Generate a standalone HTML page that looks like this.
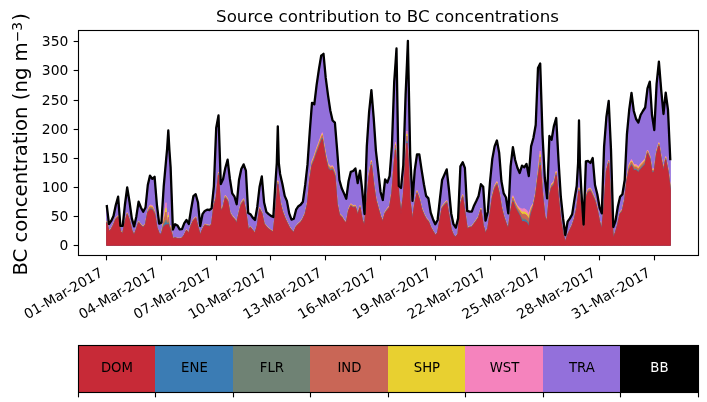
<!DOCTYPE html>
<html lang="en"><head><meta charset="utf-8"><title>Source contribution to BC concentrations</title>
<style>html,body{margin:0;padding:0;background:#fff;overflow:hidden}svg{display:block}</style></head>
<body>
<svg width="707" height="402" viewBox="0 0 707 402" font-family="'DejaVu Sans', 'Liberation Sans', sans-serif" fill="#000">
<rect width="707" height="402" fill="#fff"/>
<polygon fill="#9370db" stroke="#9370db" stroke-width="1" stroke-linejoin="round" points="106.7,205.0 109.0,224.2 111.2,220.9 113.5,215.9 115.8,205.0 118.1,196.7 120.4,225.9 122.7,225.9 124.9,205.0 127.2,187.5 129.5,201.7 131.8,218.4 134.1,226.4 136.3,216.7 138.6,201.7 140.9,207.5 143.2,211.7 145.5,207.5 147.8,185.0 150.0,175.6 152.3,178.9 154.6,176.8 156.9,205.0 159.2,223.7 161.4,222.6 163.7,186.7 166.0,161.0 167.1,149.0 168.3,130.5 169.4,150.0 170.6,167.0 172.9,229.5 175.1,224.2 177.4,225.4 179.7,229.4 182.0,229.1 184.3,223.1 186.5,220.0 188.8,224.0 191.1,209.2 193.4,196.2 195.7,194.2 198.0,202.5 200.2,226.0 202.5,214.2 204.8,210.9 207.1,209.7 209.4,210.0 211.6,208.4 213.9,186.0 216.2,128.0 218.5,115.5 220.8,184.0 223.1,179.0 225.3,168.0 227.6,159.7 229.9,179.0 232.2,193.4 234.5,196.7 236.7,204.2 239.0,180.0 241.3,169.0 243.6,164.4 245.9,170.6 248.2,213.0 250.4,214.2 252.7,217.6 255.0,220.0 257.3,206.7 259.6,186.7 261.8,176.4 264.1,202.5 266.4,212.0 268.7,214.2 271.0,215.9 273.3,217.0 275.5,182.0 276.8,163.0 277.8,126.4 278.8,163.0 280.1,174.0 282.4,184.0 284.7,195.9 286.9,200.9 289.2,213.4 291.5,219.6 293.8,218.7 296.1,209.7 298.4,206.2 300.6,204.7 302.9,201.7 305.2,185.0 307.5,164.7 309.8,131.0 312.0,102.8 314.3,104.4 316.6,85.2 318.9,69.4 321.2,55.7 322.3,54.8 323.5,53.8 325.7,77.7 328.0,95.2 330.3,110.5 332.6,120.5 334.9,122.7 337.1,149.7 339.4,180.0 341.7,188.3 344.0,193.4 346.3,198.7 348.6,181.0 350.8,171.8 353.1,171.0 355.4,168.4 357.7,183.0 360.0,170.6 362.2,190.0 364.5,214.0 366.8,146.4 369.1,112.0 371.4,90.2 373.7,118.0 375.9,150.6 378.2,170.6 380.5,191.7 382.8,200.0 385.1,179.5 387.4,182.5 389.6,176.0 391.9,146.4 394.2,82.0 395.5,63.6 396.5,48.5 396.7,62.2 398.8,186.0 401.0,188.0 403.3,165.0 405.6,95.0 406.9,65.2 407.9,40.8 408.1,52.3 410.2,155.0 412.5,200.9 414.7,170.6 417.0,154.4 419.3,154.4 421.6,169.8 423.9,184.2 426.1,195.9 428.4,198.4 430.7,212.6 433.0,219.2 435.3,224.2 437.6,220.0 439.8,200.0 442.1,180.0 444.4,174.8 446.7,169.4 449.0,190.0 451.2,213.4 453.5,224.2 455.8,227.6 458.1,218.4 460.4,166.4 462.7,162.2 464.9,168.0 467.2,210.9 469.5,211.7 471.8,211.7 474.1,205.4 476.3,200.9 478.6,195.9 480.9,184.2 483.2,186.7 485.5,220.6 487.8,211.7 490.0,182.0 492.3,158.9 494.6,146.4 496.9,140.5 499.2,153.0 501.4,181.0 503.7,193.4 506.0,197.5 508.3,213.4 510.6,166.4 512.9,147.2 515.1,159.7 517.4,167.8 519.7,173.0 522.0,165.6 524.3,167.3 526.5,163.9 528.8,176.0 531.1,146.4 533.4,138.0 535.7,125.0 538.0,68.0 540.2,63.5 542.5,134.7 544.8,178.0 547.1,198.4 549.4,136.0 551.6,139.7 553.9,126.0 556.2,118.0 558.5,160.0 560.8,196.7 563.1,218.4 565.3,235.0 567.6,221.7 569.9,218.4 572.2,214.2 574.5,199.2 576.7,186.0 578.1,163.0 579.0,120.5 579.9,163.0 581.3,190.0 583.6,224.5 585.9,161.4 588.2,161.0 590.4,163.0 592.7,158.0 595.0,185.0 597.3,194.2 599.6,207.5 601.8,213.4 604.1,146.4 606.4,117.0 608.7,101.0 611.0,150.0 613.3,227.0 615.5,220.9 617.8,206.7 620.1,196.7 622.4,194.2 624.7,180.0 626.9,134.7 629.2,110.0 631.5,93.0 633.8,111.0 636.1,119.0 638.4,122.5 640.6,115.0 642.9,111.0 645.2,107.5 647.5,88.4 649.8,81.7 652.0,115.0 654.3,130.0 656.6,84.0 658.9,61.7 661.2,90.0 663.5,114.0 665.7,92.6 668.0,110.0 670.3,160.3 670.3,245.3 668.0,245.3 665.7,245.3 663.5,245.3 661.2,245.3 658.9,245.3 656.6,245.3 654.3,245.3 652.0,245.3 649.8,245.3 647.5,245.3 645.2,245.3 642.9,245.3 640.6,245.3 638.4,245.3 636.1,245.3 633.8,245.3 631.5,245.3 629.2,245.3 626.9,245.3 624.7,245.3 622.4,245.3 620.1,245.3 617.8,245.3 615.5,245.3 613.3,245.3 611.0,245.3 608.7,245.3 606.4,245.3 604.1,245.3 601.8,245.3 599.6,245.3 597.3,245.3 595.0,245.3 592.7,245.3 590.4,245.3 588.2,245.3 585.9,245.3 583.6,245.3 581.3,245.3 579.9,245.3 579.0,245.3 578.1,245.3 576.7,245.3 574.5,245.3 572.2,245.3 569.9,245.3 567.6,245.3 565.3,245.3 563.1,245.3 560.8,245.3 558.5,245.3 556.2,245.3 553.9,245.3 551.6,245.3 549.4,245.3 547.1,245.3 544.8,245.3 542.5,245.3 540.2,245.3 538.0,245.3 535.7,245.3 533.4,245.3 531.1,245.3 528.8,245.3 526.5,245.3 524.3,245.3 522.0,245.3 519.7,245.3 517.4,245.3 515.1,245.3 512.9,245.3 510.6,245.3 508.3,245.3 506.0,245.3 503.7,245.3 501.4,245.3 499.2,245.3 496.9,245.3 494.6,245.3 492.3,245.3 490.0,245.3 487.8,245.3 485.5,245.3 483.2,245.3 480.9,245.3 478.6,245.3 476.3,245.3 474.1,245.3 471.8,245.3 469.5,245.3 467.2,245.3 464.9,245.3 462.7,245.3 460.4,245.3 458.1,245.3 455.8,245.3 453.5,245.3 451.2,245.3 449.0,245.3 446.7,245.3 444.4,245.3 442.1,245.3 439.8,245.3 437.6,245.3 435.3,245.3 433.0,245.3 430.7,245.3 428.4,245.3 426.1,245.3 423.9,245.3 421.6,245.3 419.3,245.3 417.0,245.3 414.7,245.3 412.5,245.3 410.2,245.3 408.1,245.3 407.9,245.3 406.9,245.3 405.6,245.3 403.3,245.3 401.0,245.3 398.8,245.3 396.7,245.3 396.5,245.3 395.5,245.3 394.2,245.3 391.9,245.3 389.6,245.3 387.4,245.3 385.1,245.3 382.8,245.3 380.5,245.3 378.2,245.3 375.9,245.3 373.7,245.3 371.4,245.3 369.1,245.3 366.8,245.3 364.5,245.3 362.2,245.3 360.0,245.3 357.7,245.3 355.4,245.3 353.1,245.3 350.8,245.3 348.6,245.3 346.3,245.3 344.0,245.3 341.7,245.3 339.4,245.3 337.1,245.3 334.9,245.3 332.6,245.3 330.3,245.3 328.0,245.3 325.7,245.3 323.5,245.3 322.3,245.3 321.2,245.3 318.9,245.3 316.6,245.3 314.3,245.3 312.0,245.3 309.8,245.3 307.5,245.3 305.2,245.3 302.9,245.3 300.6,245.3 298.4,245.3 296.1,245.3 293.8,245.3 291.5,245.3 289.2,245.3 286.9,245.3 284.7,245.3 282.4,245.3 280.1,245.3 278.8,245.3 277.8,245.3 276.8,245.3 275.5,245.3 273.3,245.3 271.0,245.3 268.7,245.3 266.4,245.3 264.1,245.3 261.8,245.3 259.6,245.3 257.3,245.3 255.0,245.3 252.7,245.3 250.4,245.3 248.2,245.3 245.9,245.3 243.6,245.3 241.3,245.3 239.0,245.3 236.7,245.3 234.5,245.3 232.2,245.3 229.9,245.3 227.6,245.3 225.3,245.3 223.1,245.3 220.8,245.3 218.5,245.3 216.2,245.3 213.9,245.3 211.6,245.3 209.4,245.3 207.1,245.3 204.8,245.3 202.5,245.3 200.2,245.3 198.0,245.3 195.7,245.3 193.4,245.3 191.1,245.3 188.8,245.3 186.5,245.3 184.3,245.3 182.0,245.3 179.7,245.3 177.4,245.3 175.1,245.3 172.9,245.3 170.6,245.3 169.4,245.3 168.3,245.3 167.1,245.3 166.0,245.3 163.7,245.3 161.4,245.3 159.2,245.3 156.9,245.3 154.6,245.3 152.3,245.3 150.0,245.3 147.8,245.3 145.5,245.3 143.2,245.3 140.9,245.3 138.6,245.3 136.3,245.3 134.1,245.3 131.8,245.3 129.5,245.3 127.2,245.3 124.9,245.3 122.7,245.3 120.4,245.3 118.1,245.3 115.8,245.3 113.5,245.3 111.2,245.3 109.0,245.3 106.7,245.3"/>
<polygon fill="#f583bd" stroke="#f583bd" stroke-width="1" stroke-linejoin="round" points="106.7,221.2 109.0,230.5 111.2,228.4 113.5,223.8 115.8,217.6 118.1,215.6 120.4,230.5 122.7,233.1 124.9,221.2 127.2,212.5 129.5,219.2 131.8,229.5 134.1,234.6 136.3,228.4 138.6,221.2 140.9,224.3 143.2,226.4 145.5,223.3 147.8,210.0 150.0,205.0 152.3,205.5 154.6,211.0 156.9,226.4 159.2,233.1 161.4,233.6 163.7,218.7 166.0,202.7 167.1,223.8 168.3,212.2 169.4,226.5 170.6,225.1 172.9,238.1 175.1,237.3 177.4,238.1 179.7,238.2 182.0,237.7 184.3,234.3 186.5,229.5 188.8,232.4 191.1,224.3 193.4,219.2 195.7,216.7 198.0,226.1 200.2,234.6 202.5,228.4 204.8,224.0 207.1,224.7 209.4,225.2 211.6,223.3 213.9,203.7 216.2,195.5 218.5,172.0 220.8,208.9 223.1,205.5 225.3,195.2 227.6,198.6 229.9,211.6 232.2,215.5 234.5,217.8 236.7,221.8 239.0,211.6 241.3,202.1 243.6,198.6 245.9,210.6 248.2,228.3 250.4,226.4 252.7,229.5 255.0,232.5 257.3,224.3 259.6,207.2 261.8,211.6 264.1,222.7 266.4,225.8 268.7,228.1 271.0,229.9 273.3,231.3 275.5,210.6 276.8,194.1 277.8,180.6 278.8,189.5 280.1,200.3 282.4,209.8 284.7,216.1 286.9,221.2 289.2,226.1 291.5,229.5 293.8,231.5 296.1,225.8 298.4,223.0 300.6,221.2 302.9,217.5 305.2,212.4 307.5,201.7 309.8,175.9 312.0,161.0 314.3,155.4 316.6,148.2 318.9,142.0 321.2,135.3 322.3,132.7 323.5,141.0 325.7,153.8 328.0,163.6 330.3,166.2 332.6,165.7 334.9,171.8 337.1,201.7 339.4,213.2 341.7,215.5 344.0,219.6 346.3,221.8 348.6,208.9 350.8,203.7 353.1,205.5 355.4,205.2 357.7,213.2 360.0,205.5 362.2,218.3 364.5,224.7 366.8,198.6 369.1,172.9 371.4,160.0 373.7,182.1 375.9,197.6 378.2,206.3 380.5,214.9 382.8,220.2 385.1,211.6 387.4,208.1 389.6,205.5 391.9,190.4 394.2,161.0 395.5,142.0 396.5,159.0 396.7,161.0 398.8,193.0 401.0,212.0 403.3,195.0 405.6,156.0 406.9,131.0 407.9,154.0 408.1,156.0 410.2,201.0 412.5,218.3 414.7,202.1 417.0,190.4 419.3,196.9 421.6,207.2 423.9,213.2 426.1,217.5 428.4,220.2 430.7,226.4 433.0,230.5 435.3,234.4 437.6,232.1 439.8,219.2 442.1,206.3 444.4,202.9 446.7,200.3 449.0,214.0 451.2,228.6 453.5,234.6 455.8,236.5 458.1,233.0 460.4,202.1 462.7,194.4 464.9,210.6 467.2,227.8 469.5,226.4 471.8,226.1 474.1,222.7 476.3,219.6 478.6,216.1 480.9,208.1 483.2,224.3 485.5,232.5 487.8,227.4 490.0,212.4 492.3,195.2 494.6,185.7 496.9,181.4 499.2,190.9 501.4,205.5 503.7,214.9 506.0,222.2 508.3,228.1 510.6,209.8 512.9,195.7 515.1,201.5 517.4,205.7 519.7,207.9 522.0,209.2 524.3,208.7 526.5,210.1 528.8,213.7 531.1,206.7 533.4,203.0 535.7,192.0 538.0,172.0 540.2,151.0 542.5,190.0 544.8,214.9 547.1,220.2 549.4,193.4 551.6,183.5 553.9,181.5 556.2,171.0 558.5,196.0 560.8,219.2 563.1,233.4 565.3,241.8 567.6,234.4 569.9,229.1 572.2,224.3 574.5,217.1 576.7,206.3 578.1,195.0 579.0,187.5 579.9,196.0 581.3,208.9 583.6,232.0 585.9,195.2 588.2,188.7 590.4,188.0 592.7,193.1 595.0,198.6 597.3,208.1 599.6,220.7 601.8,227.9 604.1,203.7 606.4,169.0 608.7,160.0 611.0,207.2 613.3,237.7 615.5,231.5 617.8,223.0 620.1,212.0 622.4,208.9 624.7,197.8 626.9,177.5 629.2,164.0 631.5,159.5 633.8,164.5 636.1,164.5 638.4,166.5 640.6,163.5 642.9,161.0 645.2,158.5 647.5,150.0 649.8,155.5 652.0,169.5 654.3,168.5 656.6,150.5 658.9,142.5 661.2,156.5 663.5,167.5 665.7,156.5 668.0,168.5 670.3,186.5 670.3,245.3 668.0,245.3 665.7,245.3 663.5,245.3 661.2,245.3 658.9,245.3 656.6,245.3 654.3,245.3 652.0,245.3 649.8,245.3 647.5,245.3 645.2,245.3 642.9,245.3 640.6,245.3 638.4,245.3 636.1,245.3 633.8,245.3 631.5,245.3 629.2,245.3 626.9,245.3 624.7,245.3 622.4,245.3 620.1,245.3 617.8,245.3 615.5,245.3 613.3,245.3 611.0,245.3 608.7,245.3 606.4,245.3 604.1,245.3 601.8,245.3 599.6,245.3 597.3,245.3 595.0,245.3 592.7,245.3 590.4,245.3 588.2,245.3 585.9,245.3 583.6,245.3 581.3,245.3 579.9,245.3 579.0,245.3 578.1,245.3 576.7,245.3 574.5,245.3 572.2,245.3 569.9,245.3 567.6,245.3 565.3,245.3 563.1,245.3 560.8,245.3 558.5,245.3 556.2,245.3 553.9,245.3 551.6,245.3 549.4,245.3 547.1,245.3 544.8,245.3 542.5,245.3 540.2,245.3 538.0,245.3 535.7,245.3 533.4,245.3 531.1,245.3 528.8,245.3 526.5,245.3 524.3,245.3 522.0,245.3 519.7,245.3 517.4,245.3 515.1,245.3 512.9,245.3 510.6,245.3 508.3,245.3 506.0,245.3 503.7,245.3 501.4,245.3 499.2,245.3 496.9,245.3 494.6,245.3 492.3,245.3 490.0,245.3 487.8,245.3 485.5,245.3 483.2,245.3 480.9,245.3 478.6,245.3 476.3,245.3 474.1,245.3 471.8,245.3 469.5,245.3 467.2,245.3 464.9,245.3 462.7,245.3 460.4,245.3 458.1,245.3 455.8,245.3 453.5,245.3 451.2,245.3 449.0,245.3 446.7,245.3 444.4,245.3 442.1,245.3 439.8,245.3 437.6,245.3 435.3,245.3 433.0,245.3 430.7,245.3 428.4,245.3 426.1,245.3 423.9,245.3 421.6,245.3 419.3,245.3 417.0,245.3 414.7,245.3 412.5,245.3 410.2,245.3 408.1,245.3 407.9,245.3 406.9,245.3 405.6,245.3 403.3,245.3 401.0,245.3 398.8,245.3 396.7,245.3 396.5,245.3 395.5,245.3 394.2,245.3 391.9,245.3 389.6,245.3 387.4,245.3 385.1,245.3 382.8,245.3 380.5,245.3 378.2,245.3 375.9,245.3 373.7,245.3 371.4,245.3 369.1,245.3 366.8,245.3 364.5,245.3 362.2,245.3 360.0,245.3 357.7,245.3 355.4,245.3 353.1,245.3 350.8,245.3 348.6,245.3 346.3,245.3 344.0,245.3 341.7,245.3 339.4,245.3 337.1,245.3 334.9,245.3 332.6,245.3 330.3,245.3 328.0,245.3 325.7,245.3 323.5,245.3 322.3,245.3 321.2,245.3 318.9,245.3 316.6,245.3 314.3,245.3 312.0,245.3 309.8,245.3 307.5,245.3 305.2,245.3 302.9,245.3 300.6,245.3 298.4,245.3 296.1,245.3 293.8,245.3 291.5,245.3 289.2,245.3 286.9,245.3 284.7,245.3 282.4,245.3 280.1,245.3 278.8,245.3 277.8,245.3 276.8,245.3 275.5,245.3 273.3,245.3 271.0,245.3 268.7,245.3 266.4,245.3 264.1,245.3 261.8,245.3 259.6,245.3 257.3,245.3 255.0,245.3 252.7,245.3 250.4,245.3 248.2,245.3 245.9,245.3 243.6,245.3 241.3,245.3 239.0,245.3 236.7,245.3 234.5,245.3 232.2,245.3 229.9,245.3 227.6,245.3 225.3,245.3 223.1,245.3 220.8,245.3 218.5,245.3 216.2,245.3 213.9,245.3 211.6,245.3 209.4,245.3 207.1,245.3 204.8,245.3 202.5,245.3 200.2,245.3 198.0,245.3 195.7,245.3 193.4,245.3 191.1,245.3 188.8,245.3 186.5,245.3 184.3,245.3 182.0,245.3 179.7,245.3 177.4,245.3 175.1,245.3 172.9,245.3 170.6,245.3 169.4,245.3 168.3,245.3 167.1,245.3 166.0,245.3 163.7,245.3 161.4,245.3 159.2,245.3 156.9,245.3 154.6,245.3 152.3,245.3 150.0,245.3 147.8,245.3 145.5,245.3 143.2,245.3 140.9,245.3 138.6,245.3 136.3,245.3 134.1,245.3 131.8,245.3 129.5,245.3 127.2,245.3 124.9,245.3 122.7,245.3 120.4,245.3 118.1,245.3 115.8,245.3 113.5,245.3 111.2,245.3 109.0,245.3 106.7,245.3"/>
<polygon fill="#e8d030" stroke="#e8d030" stroke-width="1" stroke-linejoin="round" points="106.7,221.6 109.0,230.7 111.2,228.7 113.5,224.1 115.8,218.1 118.1,216.0 120.4,230.7 122.7,233.3 124.9,221.6 127.2,213.0 129.5,219.6 131.8,229.7 134.1,234.8 136.3,228.7 138.6,221.6 140.9,224.7 143.2,226.7 145.5,223.6 147.8,210.6 150.0,206.1 152.3,206.6 154.6,211.8 156.9,226.7 159.2,233.3 161.4,233.8 163.7,220.7 166.0,208.2 167.1,224.1 168.3,215.2 169.4,226.8 170.6,226.3 172.9,238.3 175.1,237.4 177.4,238.3 179.7,238.4 182.0,237.8 184.3,234.5 186.5,229.8 188.8,232.7 191.1,224.7 193.4,219.6 195.7,217.1 198.0,226.4 200.2,234.8 202.5,228.7 204.8,224.4 207.1,225.1 209.4,225.6 211.6,223.6 213.9,204.4 216.2,196.2 218.5,172.8 220.8,209.4 223.1,206.1 225.3,195.9 227.6,199.3 229.9,212.1 232.2,215.9 234.5,218.3 236.7,222.2 239.0,212.1 241.3,202.7 243.6,199.3 245.9,211.2 248.2,228.6 250.4,226.7 252.7,229.7 255.0,232.8 257.3,224.7 259.6,207.8 261.8,212.1 264.1,223.0 266.4,226.1 268.7,228.4 271.0,230.1 273.3,231.6 275.5,211.2 276.8,194.9 277.8,181.5 278.8,190.3 280.1,201.0 282.4,210.4 284.7,216.5 286.9,221.6 289.2,226.4 291.5,229.7 293.8,231.8 296.1,226.1 298.4,223.3 300.6,221.6 302.9,218.0 305.2,212.9 307.5,202.3 309.8,177.0 312.0,162.3 314.3,156.7 316.6,149.6 318.9,143.5 321.2,136.9 322.3,134.4 323.5,142.5 325.7,155.2 328.0,164.8 330.3,167.3 332.6,166.8 334.9,172.9 337.1,202.3 339.4,213.7 341.7,215.9 344.0,220.0 346.3,222.2 348.6,209.4 350.8,204.4 353.1,206.1 355.4,205.8 357.7,213.7 360.0,206.1 362.2,218.8 364.5,225.1 366.8,199.3 369.1,173.9 371.4,161.2 373.7,183.1 375.9,198.3 378.2,206.9 380.5,215.4 382.8,220.6 385.1,212.1 387.4,208.6 389.6,206.1 391.9,191.2 394.2,161.8 395.5,144.0 396.5,159.8 396.7,161.8 398.8,193.5 401.0,212.5 403.3,195.5 405.6,157.0 406.9,134.0 407.9,155.0 408.1,157.0 410.2,201.5 412.5,218.8 414.7,202.7 417.0,191.2 419.3,197.7 421.6,207.8 423.9,213.7 426.1,218.0 428.4,220.6 430.7,226.7 433.0,230.7 435.3,234.6 437.6,232.4 439.8,219.6 442.1,206.9 444.4,203.6 446.7,201.0 449.0,214.5 451.2,228.9 453.5,234.8 455.8,236.6 458.1,233.2 460.4,202.7 462.7,195.1 464.9,211.2 467.2,228.1 469.5,226.7 471.8,226.4 474.1,223.0 476.3,220.0 478.6,216.5 480.9,208.6 483.2,224.7 485.5,232.8 487.8,227.7 490.0,212.9 492.3,195.9 494.6,186.6 496.9,182.4 499.2,191.7 501.4,206.1 503.7,215.4 506.0,222.5 508.3,228.4 510.6,210.4 512.9,197.2 515.1,203.0 517.4,207.2 519.7,209.9 522.0,212.3 524.3,211.9 526.5,213.2 528.8,216.9 531.1,208.6 533.4,204.0 535.7,193.0 538.0,173.5 540.2,154.5 542.5,191.2 544.8,215.4 547.1,220.6 549.4,194.2 551.6,184.5 553.9,182.5 556.2,172.1 558.5,196.8 560.8,219.6 563.1,233.6 565.3,241.9 567.6,234.6 569.9,229.4 572.2,224.7 574.5,217.6 576.7,206.9 578.1,195.8 579.0,188.3 579.9,196.8 581.3,209.4 583.6,232.3 585.9,195.9 588.2,189.6 590.4,188.8 592.7,193.9 595.0,199.3 597.3,208.6 599.6,221.1 601.8,228.2 604.1,204.4 606.4,169.8 608.7,160.8 611.0,207.8 613.3,237.8 615.5,231.8 617.8,223.3 620.1,212.5 622.4,209.4 624.7,198.5 626.9,178.4 629.2,165.5 631.5,161.0 633.8,166.0 636.1,166.0 638.4,168.0 640.6,165.0 642.9,162.5 645.2,160.0 647.5,150.9 649.8,156.4 652.0,170.4 654.3,169.4 656.6,151.4 658.9,143.4 661.2,157.4 663.5,168.4 665.7,157.4 668.0,169.4 670.3,187.4 670.3,245.3 668.0,245.3 665.7,245.3 663.5,245.3 661.2,245.3 658.9,245.3 656.6,245.3 654.3,245.3 652.0,245.3 649.8,245.3 647.5,245.3 645.2,245.3 642.9,245.3 640.6,245.3 638.4,245.3 636.1,245.3 633.8,245.3 631.5,245.3 629.2,245.3 626.9,245.3 624.7,245.3 622.4,245.3 620.1,245.3 617.8,245.3 615.5,245.3 613.3,245.3 611.0,245.3 608.7,245.3 606.4,245.3 604.1,245.3 601.8,245.3 599.6,245.3 597.3,245.3 595.0,245.3 592.7,245.3 590.4,245.3 588.2,245.3 585.9,245.3 583.6,245.3 581.3,245.3 579.9,245.3 579.0,245.3 578.1,245.3 576.7,245.3 574.5,245.3 572.2,245.3 569.9,245.3 567.6,245.3 565.3,245.3 563.1,245.3 560.8,245.3 558.5,245.3 556.2,245.3 553.9,245.3 551.6,245.3 549.4,245.3 547.1,245.3 544.8,245.3 542.5,245.3 540.2,245.3 538.0,245.3 535.7,245.3 533.4,245.3 531.1,245.3 528.8,245.3 526.5,245.3 524.3,245.3 522.0,245.3 519.7,245.3 517.4,245.3 515.1,245.3 512.9,245.3 510.6,245.3 508.3,245.3 506.0,245.3 503.7,245.3 501.4,245.3 499.2,245.3 496.9,245.3 494.6,245.3 492.3,245.3 490.0,245.3 487.8,245.3 485.5,245.3 483.2,245.3 480.9,245.3 478.6,245.3 476.3,245.3 474.1,245.3 471.8,245.3 469.5,245.3 467.2,245.3 464.9,245.3 462.7,245.3 460.4,245.3 458.1,245.3 455.8,245.3 453.5,245.3 451.2,245.3 449.0,245.3 446.7,245.3 444.4,245.3 442.1,245.3 439.8,245.3 437.6,245.3 435.3,245.3 433.0,245.3 430.7,245.3 428.4,245.3 426.1,245.3 423.9,245.3 421.6,245.3 419.3,245.3 417.0,245.3 414.7,245.3 412.5,245.3 410.2,245.3 408.1,245.3 407.9,245.3 406.9,245.3 405.6,245.3 403.3,245.3 401.0,245.3 398.8,245.3 396.7,245.3 396.5,245.3 395.5,245.3 394.2,245.3 391.9,245.3 389.6,245.3 387.4,245.3 385.1,245.3 382.8,245.3 380.5,245.3 378.2,245.3 375.9,245.3 373.7,245.3 371.4,245.3 369.1,245.3 366.8,245.3 364.5,245.3 362.2,245.3 360.0,245.3 357.7,245.3 355.4,245.3 353.1,245.3 350.8,245.3 348.6,245.3 346.3,245.3 344.0,245.3 341.7,245.3 339.4,245.3 337.1,245.3 334.9,245.3 332.6,245.3 330.3,245.3 328.0,245.3 325.7,245.3 323.5,245.3 322.3,245.3 321.2,245.3 318.9,245.3 316.6,245.3 314.3,245.3 312.0,245.3 309.8,245.3 307.5,245.3 305.2,245.3 302.9,245.3 300.6,245.3 298.4,245.3 296.1,245.3 293.8,245.3 291.5,245.3 289.2,245.3 286.9,245.3 284.7,245.3 282.4,245.3 280.1,245.3 278.8,245.3 277.8,245.3 276.8,245.3 275.5,245.3 273.3,245.3 271.0,245.3 268.7,245.3 266.4,245.3 264.1,245.3 261.8,245.3 259.6,245.3 257.3,245.3 255.0,245.3 252.7,245.3 250.4,245.3 248.2,245.3 245.9,245.3 243.6,245.3 241.3,245.3 239.0,245.3 236.7,245.3 234.5,245.3 232.2,245.3 229.9,245.3 227.6,245.3 225.3,245.3 223.1,245.3 220.8,245.3 218.5,245.3 216.2,245.3 213.9,245.3 211.6,245.3 209.4,245.3 207.1,245.3 204.8,245.3 202.5,245.3 200.2,245.3 198.0,245.3 195.7,245.3 193.4,245.3 191.1,245.3 188.8,245.3 186.5,245.3 184.3,245.3 182.0,245.3 179.7,245.3 177.4,245.3 175.1,245.3 172.9,245.3 170.6,245.3 169.4,245.3 168.3,245.3 167.1,245.3 166.0,245.3 163.7,245.3 161.4,245.3 159.2,245.3 156.9,245.3 154.6,245.3 152.3,245.3 150.0,245.3 147.8,245.3 145.5,245.3 143.2,245.3 140.9,245.3 138.6,245.3 136.3,245.3 134.1,245.3 131.8,245.3 129.5,245.3 127.2,245.3 124.9,245.3 122.7,245.3 120.4,245.3 118.1,245.3 115.8,245.3 113.5,245.3 111.2,245.3 109.0,245.3 106.7,245.3"/>
<polygon fill="#c96656" stroke="#c96656" stroke-width="1" stroke-linejoin="round" points="106.7,221.9 109.0,230.9 111.2,228.9 113.5,224.4 115.8,218.4 118.1,216.4 120.4,230.9 122.7,233.4 124.9,221.9 127.2,213.3 129.5,219.9 131.8,229.9 134.1,234.9 136.3,228.9 138.6,221.9 140.9,224.9 143.2,226.9 145.5,223.9 147.8,211.1 150.0,206.9 152.3,207.4 154.6,212.3 156.9,226.9 159.2,233.4 161.4,233.9 163.7,222.1 166.0,212.0 167.1,224.4 168.3,217.3 169.4,227.1 170.6,227.2 172.9,238.4 175.1,237.5 177.4,238.4 179.7,238.5 182.0,238.0 184.3,234.6 186.5,230.0 188.8,232.8 191.1,224.9 193.4,219.9 195.7,217.4 198.0,226.6 200.2,234.9 202.5,228.9 204.8,224.6 207.1,225.3 209.4,225.8 211.6,223.9 213.9,204.8 216.2,196.8 218.5,173.3 220.8,209.8 223.1,206.5 225.3,196.5 227.6,199.8 229.9,212.4 232.2,216.2 234.5,218.6 236.7,222.5 239.0,212.4 241.3,203.2 243.6,199.8 245.9,211.5 248.2,228.8 250.4,226.9 252.7,229.9 255.0,232.9 257.3,224.9 259.6,208.2 261.8,212.4 264.1,223.3 266.4,226.3 268.7,228.6 271.0,230.3 273.3,231.7 275.5,211.5 276.8,195.4 277.8,182.2 278.8,190.9 280.1,201.5 282.4,210.7 284.7,216.9 286.9,221.9 289.2,226.6 291.5,229.9 293.8,231.9 296.1,226.3 298.4,223.6 300.6,221.9 302.9,218.3 305.2,213.2 307.5,202.8 309.8,177.7 312.0,163.1 314.3,157.6 316.6,150.5 318.9,144.5 321.2,138.0 322.3,135.5 323.5,143.5 325.7,156.1 328.0,165.6 330.3,168.1 332.6,167.6 334.9,173.7 337.1,202.8 339.4,214.0 341.7,216.2 344.0,220.3 346.3,222.5 348.6,209.8 350.8,204.8 353.1,206.5 355.4,206.2 357.7,214.0 360.0,206.5 362.2,219.1 364.5,225.3 366.8,199.8 369.1,174.7 371.4,162.1 373.7,183.7 375.9,198.8 378.2,207.3 380.5,215.7 382.8,220.9 385.1,212.4 387.4,209.0 389.6,206.5 391.9,191.7 394.2,162.3 395.5,145.4 396.5,160.3 396.7,162.3 398.8,193.8 401.0,212.8 403.3,195.8 405.6,157.7 406.9,136.0 407.9,155.7 408.1,157.7 410.2,201.8 412.5,219.1 414.7,203.2 417.0,191.7 419.3,198.2 421.6,208.2 423.9,214.0 426.1,218.3 428.4,220.9 430.7,226.9 433.0,230.9 435.3,234.7 437.6,232.5 439.8,219.9 442.1,207.3 444.4,204.0 446.7,201.5 449.0,214.8 451.2,229.1 453.5,234.9 455.8,236.7 458.1,233.3 460.4,203.2 462.7,195.7 464.9,211.5 467.2,228.3 469.5,226.9 471.8,226.6 474.1,223.3 476.3,220.3 478.6,216.9 480.9,209.0 483.2,224.9 485.5,232.9 487.8,227.9 490.0,213.2 492.3,196.5 494.6,187.2 496.9,183.0 499.2,192.2 501.4,206.5 503.7,215.7 506.0,222.8 508.3,228.6 510.6,210.7 512.9,198.2 515.1,204.0 517.4,208.2 519.7,211.3 522.0,214.4 524.3,214.2 526.5,215.3 528.8,219.2 531.1,209.8 533.4,204.7 535.7,193.7 538.0,174.5 540.2,156.9 542.5,192.1 544.8,215.7 547.1,220.9 549.4,194.8 551.6,185.2 553.9,183.2 556.2,172.9 558.5,197.3 560.8,219.9 563.1,233.7 565.3,242.0 567.6,234.7 569.9,229.6 572.2,224.9 574.5,217.9 576.7,207.3 578.1,196.3 579.0,188.9 579.9,197.3 581.3,209.8 583.6,232.4 585.9,196.5 588.2,190.1 590.4,189.4 592.7,194.4 595.0,199.8 597.3,209.0 599.6,221.4 601.8,228.4 604.1,204.8 606.4,170.3 608.7,161.3 611.0,208.2 613.3,238.0 615.5,231.9 617.8,223.6 620.1,212.8 622.4,209.8 624.7,199.0 626.9,179.0 629.2,166.5 631.5,162.0 633.8,167.0 636.1,167.0 638.4,169.0 640.6,166.0 642.9,163.5 645.2,161.0 647.5,151.5 649.8,157.0 652.0,171.0 654.3,170.0 656.6,152.0 658.9,144.0 661.2,158.0 663.5,169.0 665.7,158.0 668.0,170.0 670.3,188.0 670.3,245.3 668.0,245.3 665.7,245.3 663.5,245.3 661.2,245.3 658.9,245.3 656.6,245.3 654.3,245.3 652.0,245.3 649.8,245.3 647.5,245.3 645.2,245.3 642.9,245.3 640.6,245.3 638.4,245.3 636.1,245.3 633.8,245.3 631.5,245.3 629.2,245.3 626.9,245.3 624.7,245.3 622.4,245.3 620.1,245.3 617.8,245.3 615.5,245.3 613.3,245.3 611.0,245.3 608.7,245.3 606.4,245.3 604.1,245.3 601.8,245.3 599.6,245.3 597.3,245.3 595.0,245.3 592.7,245.3 590.4,245.3 588.2,245.3 585.9,245.3 583.6,245.3 581.3,245.3 579.9,245.3 579.0,245.3 578.1,245.3 576.7,245.3 574.5,245.3 572.2,245.3 569.9,245.3 567.6,245.3 565.3,245.3 563.1,245.3 560.8,245.3 558.5,245.3 556.2,245.3 553.9,245.3 551.6,245.3 549.4,245.3 547.1,245.3 544.8,245.3 542.5,245.3 540.2,245.3 538.0,245.3 535.7,245.3 533.4,245.3 531.1,245.3 528.8,245.3 526.5,245.3 524.3,245.3 522.0,245.3 519.7,245.3 517.4,245.3 515.1,245.3 512.9,245.3 510.6,245.3 508.3,245.3 506.0,245.3 503.7,245.3 501.4,245.3 499.2,245.3 496.9,245.3 494.6,245.3 492.3,245.3 490.0,245.3 487.8,245.3 485.5,245.3 483.2,245.3 480.9,245.3 478.6,245.3 476.3,245.3 474.1,245.3 471.8,245.3 469.5,245.3 467.2,245.3 464.9,245.3 462.7,245.3 460.4,245.3 458.1,245.3 455.8,245.3 453.5,245.3 451.2,245.3 449.0,245.3 446.7,245.3 444.4,245.3 442.1,245.3 439.8,245.3 437.6,245.3 435.3,245.3 433.0,245.3 430.7,245.3 428.4,245.3 426.1,245.3 423.9,245.3 421.6,245.3 419.3,245.3 417.0,245.3 414.7,245.3 412.5,245.3 410.2,245.3 408.1,245.3 407.9,245.3 406.9,245.3 405.6,245.3 403.3,245.3 401.0,245.3 398.8,245.3 396.7,245.3 396.5,245.3 395.5,245.3 394.2,245.3 391.9,245.3 389.6,245.3 387.4,245.3 385.1,245.3 382.8,245.3 380.5,245.3 378.2,245.3 375.9,245.3 373.7,245.3 371.4,245.3 369.1,245.3 366.8,245.3 364.5,245.3 362.2,245.3 360.0,245.3 357.7,245.3 355.4,245.3 353.1,245.3 350.8,245.3 348.6,245.3 346.3,245.3 344.0,245.3 341.7,245.3 339.4,245.3 337.1,245.3 334.9,245.3 332.6,245.3 330.3,245.3 328.0,245.3 325.7,245.3 323.5,245.3 322.3,245.3 321.2,245.3 318.9,245.3 316.6,245.3 314.3,245.3 312.0,245.3 309.8,245.3 307.5,245.3 305.2,245.3 302.9,245.3 300.6,245.3 298.4,245.3 296.1,245.3 293.8,245.3 291.5,245.3 289.2,245.3 286.9,245.3 284.7,245.3 282.4,245.3 280.1,245.3 278.8,245.3 277.8,245.3 276.8,245.3 275.5,245.3 273.3,245.3 271.0,245.3 268.7,245.3 266.4,245.3 264.1,245.3 261.8,245.3 259.6,245.3 257.3,245.3 255.0,245.3 252.7,245.3 250.4,245.3 248.2,245.3 245.9,245.3 243.6,245.3 241.3,245.3 239.0,245.3 236.7,245.3 234.5,245.3 232.2,245.3 229.9,245.3 227.6,245.3 225.3,245.3 223.1,245.3 220.8,245.3 218.5,245.3 216.2,245.3 213.9,245.3 211.6,245.3 209.4,245.3 207.1,245.3 204.8,245.3 202.5,245.3 200.2,245.3 198.0,245.3 195.7,245.3 193.4,245.3 191.1,245.3 188.8,245.3 186.5,245.3 184.3,245.3 182.0,245.3 179.7,245.3 177.4,245.3 175.1,245.3 172.9,245.3 170.6,245.3 169.4,245.3 168.3,245.3 167.1,245.3 166.0,245.3 163.7,245.3 161.4,245.3 159.2,245.3 156.9,245.3 154.6,245.3 152.3,245.3 150.0,245.3 147.8,245.3 145.5,245.3 143.2,245.3 140.9,245.3 138.6,245.3 136.3,245.3 134.1,245.3 131.8,245.3 129.5,245.3 127.2,245.3 124.9,245.3 122.7,245.3 120.4,245.3 118.1,245.3 115.8,245.3 113.5,245.3 111.2,245.3 109.0,245.3 106.7,245.3"/>
<polygon fill="#6f8274" stroke="#6f8274" stroke-width="1" stroke-linejoin="round" points="106.7,222.5 109.0,231.3 111.2,229.3 113.5,224.9 115.8,219.0 118.1,217.1 120.4,231.3 122.7,233.8 124.9,222.5 127.2,214.1 129.5,220.5 131.8,230.3 134.1,235.2 136.3,229.3 138.6,222.5 140.9,225.4 143.2,227.4 145.5,224.4 147.8,212.0 150.0,208.6 152.3,209.1 154.6,213.4 156.9,227.4 159.2,233.8 161.4,234.3 163.7,225.1 166.0,220.3 167.1,224.9 168.3,221.8 169.4,227.5 170.6,229.1 172.9,238.6 175.1,237.8 177.4,238.6 179.7,238.7 182.0,238.2 184.3,234.9 186.5,230.4 188.8,233.2 191.1,225.4 193.4,220.5 195.7,218.1 198.0,227.1 200.2,235.2 202.5,229.3 204.8,225.1 207.1,225.8 209.4,226.3 211.6,224.4 213.9,205.8 216.2,197.9 218.5,174.4 220.8,210.7 223.1,207.4 225.3,197.6 227.6,200.8 229.9,213.2 232.2,217.0 234.5,219.2 236.7,223.1 239.0,213.2 241.3,204.2 243.6,200.8 245.9,212.3 248.2,229.2 250.4,227.4 252.7,230.3 255.0,233.3 257.3,225.4 259.6,209.1 261.8,213.2 264.1,223.8 266.4,226.8 268.7,229.0 271.0,230.7 273.3,232.1 275.5,212.3 276.8,196.6 277.8,183.7 278.8,192.1 280.1,202.5 282.4,211.6 284.7,217.6 286.9,222.5 289.2,227.1 291.5,230.3 293.8,232.3 296.1,226.8 298.4,224.1 300.6,222.5 302.9,218.9 305.2,214.0 307.5,203.8 309.8,179.2 312.0,165.0 314.3,159.6 316.6,152.7 318.9,146.8 321.2,140.4 322.3,138.0 323.5,145.8 325.7,158.1 328.0,167.4 330.3,169.9 332.6,169.4 334.9,175.3 337.1,203.8 339.4,214.8 341.7,217.0 344.0,220.9 346.3,223.1 348.6,210.7 350.8,205.8 353.1,207.4 355.4,207.1 357.7,214.8 360.0,207.4 362.2,219.7 364.5,225.8 366.8,200.8 369.1,176.3 371.4,164.0 373.7,185.1 375.9,199.9 378.2,208.2 380.5,216.5 382.8,221.5 385.1,213.2 387.4,209.9 389.6,207.4 391.9,193.0 394.2,163.4 395.5,148.4 396.5,161.4 396.7,163.4 398.8,194.6 401.0,213.6 403.3,196.6 405.6,159.2 406.9,140.6 407.9,157.2 408.1,159.2 410.2,202.6 412.5,219.7 414.7,204.2 417.0,193.0 419.3,199.3 421.6,209.1 423.9,214.8 426.1,218.9 428.4,221.5 430.7,227.4 433.0,231.3 435.3,235.0 437.6,232.9 439.8,220.5 442.1,208.2 444.4,205.0 446.7,202.5 449.0,215.6 451.2,229.5 453.5,235.2 455.8,237.0 458.1,233.7 460.4,204.2 462.7,196.8 464.9,212.3 467.2,228.8 469.5,227.4 471.8,227.1 474.1,223.8 476.3,220.9 478.6,217.6 480.9,209.9 483.2,225.4 485.5,233.3 487.8,228.4 490.0,214.0 492.3,197.6 494.6,188.6 496.9,184.4 499.2,193.5 501.4,207.4 503.7,216.5 506.0,223.3 508.3,229.0 510.6,211.6 512.9,200.5 515.1,206.3 517.4,210.5 519.7,214.3 522.0,219.2 524.3,219.1 526.5,220.1 528.8,224.1 531.1,212.7 533.4,206.2 535.7,195.2 538.0,176.8 540.2,162.2 542.5,194.0 544.8,216.5 547.1,221.5 549.4,195.9 551.6,186.7 553.9,184.7 556.2,174.6 558.5,198.4 560.8,220.5 563.1,234.1 565.3,242.1 567.6,235.0 569.9,230.0 572.2,225.4 574.5,218.5 576.7,208.2 578.1,197.4 579.0,190.2 579.9,198.4 581.3,210.7 583.6,232.8 585.9,197.6 588.2,191.4 590.4,190.7 592.7,195.6 595.0,200.8 597.3,209.9 599.6,222.0 601.8,228.9 604.1,205.8 606.4,171.4 608.7,162.4 611.0,209.1 613.3,238.2 615.5,232.3 617.8,224.1 620.1,213.6 622.4,210.7 624.7,200.1 626.9,180.3 629.2,168.8 631.5,164.3 633.8,169.3 636.1,169.3 638.4,171.3 640.6,168.3 642.9,165.8 645.2,163.3 647.5,152.8 649.8,158.3 652.0,172.3 654.3,171.3 656.6,153.3 658.9,145.3 661.2,159.3 663.5,170.3 665.7,159.3 668.0,171.3 670.3,189.3 670.3,245.3 668.0,245.3 665.7,245.3 663.5,245.3 661.2,245.3 658.9,245.3 656.6,245.3 654.3,245.3 652.0,245.3 649.8,245.3 647.5,245.3 645.2,245.3 642.9,245.3 640.6,245.3 638.4,245.3 636.1,245.3 633.8,245.3 631.5,245.3 629.2,245.3 626.9,245.3 624.7,245.3 622.4,245.3 620.1,245.3 617.8,245.3 615.5,245.3 613.3,245.3 611.0,245.3 608.7,245.3 606.4,245.3 604.1,245.3 601.8,245.3 599.6,245.3 597.3,245.3 595.0,245.3 592.7,245.3 590.4,245.3 588.2,245.3 585.9,245.3 583.6,245.3 581.3,245.3 579.9,245.3 579.0,245.3 578.1,245.3 576.7,245.3 574.5,245.3 572.2,245.3 569.9,245.3 567.6,245.3 565.3,245.3 563.1,245.3 560.8,245.3 558.5,245.3 556.2,245.3 553.9,245.3 551.6,245.3 549.4,245.3 547.1,245.3 544.8,245.3 542.5,245.3 540.2,245.3 538.0,245.3 535.7,245.3 533.4,245.3 531.1,245.3 528.8,245.3 526.5,245.3 524.3,245.3 522.0,245.3 519.7,245.3 517.4,245.3 515.1,245.3 512.9,245.3 510.6,245.3 508.3,245.3 506.0,245.3 503.7,245.3 501.4,245.3 499.2,245.3 496.9,245.3 494.6,245.3 492.3,245.3 490.0,245.3 487.8,245.3 485.5,245.3 483.2,245.3 480.9,245.3 478.6,245.3 476.3,245.3 474.1,245.3 471.8,245.3 469.5,245.3 467.2,245.3 464.9,245.3 462.7,245.3 460.4,245.3 458.1,245.3 455.8,245.3 453.5,245.3 451.2,245.3 449.0,245.3 446.7,245.3 444.4,245.3 442.1,245.3 439.8,245.3 437.6,245.3 435.3,245.3 433.0,245.3 430.7,245.3 428.4,245.3 426.1,245.3 423.9,245.3 421.6,245.3 419.3,245.3 417.0,245.3 414.7,245.3 412.5,245.3 410.2,245.3 408.1,245.3 407.9,245.3 406.9,245.3 405.6,245.3 403.3,245.3 401.0,245.3 398.8,245.3 396.7,245.3 396.5,245.3 395.5,245.3 394.2,245.3 391.9,245.3 389.6,245.3 387.4,245.3 385.1,245.3 382.8,245.3 380.5,245.3 378.2,245.3 375.9,245.3 373.7,245.3 371.4,245.3 369.1,245.3 366.8,245.3 364.5,245.3 362.2,245.3 360.0,245.3 357.7,245.3 355.4,245.3 353.1,245.3 350.8,245.3 348.6,245.3 346.3,245.3 344.0,245.3 341.7,245.3 339.4,245.3 337.1,245.3 334.9,245.3 332.6,245.3 330.3,245.3 328.0,245.3 325.7,245.3 323.5,245.3 322.3,245.3 321.2,245.3 318.9,245.3 316.6,245.3 314.3,245.3 312.0,245.3 309.8,245.3 307.5,245.3 305.2,245.3 302.9,245.3 300.6,245.3 298.4,245.3 296.1,245.3 293.8,245.3 291.5,245.3 289.2,245.3 286.9,245.3 284.7,245.3 282.4,245.3 280.1,245.3 278.8,245.3 277.8,245.3 276.8,245.3 275.5,245.3 273.3,245.3 271.0,245.3 268.7,245.3 266.4,245.3 264.1,245.3 261.8,245.3 259.6,245.3 257.3,245.3 255.0,245.3 252.7,245.3 250.4,245.3 248.2,245.3 245.9,245.3 243.6,245.3 241.3,245.3 239.0,245.3 236.7,245.3 234.5,245.3 232.2,245.3 229.9,245.3 227.6,245.3 225.3,245.3 223.1,245.3 220.8,245.3 218.5,245.3 216.2,245.3 213.9,245.3 211.6,245.3 209.4,245.3 207.1,245.3 204.8,245.3 202.5,245.3 200.2,245.3 198.0,245.3 195.7,245.3 193.4,245.3 191.1,245.3 188.8,245.3 186.5,245.3 184.3,245.3 182.0,245.3 179.7,245.3 177.4,245.3 175.1,245.3 172.9,245.3 170.6,245.3 169.4,245.3 168.3,245.3 167.1,245.3 166.0,245.3 163.7,245.3 161.4,245.3 159.2,245.3 156.9,245.3 154.6,245.3 152.3,245.3 150.0,245.3 147.8,245.3 145.5,245.3 143.2,245.3 140.9,245.3 138.6,245.3 136.3,245.3 134.1,245.3 131.8,245.3 129.5,245.3 127.2,245.3 124.9,245.3 122.7,245.3 120.4,245.3 118.1,245.3 115.8,245.3 113.5,245.3 111.2,245.3 109.0,245.3 106.7,245.3"/>
<polygon fill="#3b7cb4" stroke="#3b7cb4" stroke-width="1" stroke-linejoin="round" points="106.7,222.6 109.0,231.4 111.2,229.5 113.5,225.1 115.8,219.2 118.1,217.2 120.4,231.4 122.7,233.9 124.9,222.6 127.2,214.3 129.5,220.7 131.8,230.4 134.1,235.3 136.3,229.5 138.6,222.6 140.9,225.6 143.2,227.5 145.5,224.6 147.8,212.2 150.0,209.1 152.3,209.6 154.6,213.7 156.9,227.5 159.2,233.9 161.4,234.3 163.7,225.9 166.0,222.5 167.1,225.1 168.3,223.0 169.4,227.7 170.6,229.6 172.9,238.7 175.1,237.9 177.4,238.7 179.7,238.7 182.0,238.2 184.3,235.0 186.5,230.5 188.8,233.3 191.1,225.6 193.4,220.7 195.7,218.3 198.0,227.3 200.2,235.3 202.5,229.5 204.8,225.3 207.1,225.9 209.4,226.4 211.6,224.6 213.9,206.0 216.2,198.2 218.5,174.7 220.8,210.9 223.1,207.7 225.3,197.9 227.6,201.1 229.9,213.4 232.2,217.2 234.5,219.4 236.7,223.2 239.0,213.4 241.3,204.5 243.6,201.1 245.9,212.6 248.2,229.4 250.4,227.5 252.7,230.4 255.0,233.4 257.3,225.6 259.6,209.3 261.8,213.4 264.1,224.0 266.4,226.9 268.7,229.2 271.0,230.8 273.3,232.2 275.5,212.6 276.8,196.9 277.8,184.0 278.8,192.5 280.1,202.8 282.4,211.8 284.7,217.7 286.9,222.6 289.2,227.2 291.5,230.4 293.8,232.4 296.1,226.9 298.4,224.3 300.6,222.6 302.9,219.1 305.2,214.2 307.5,204.1 309.8,179.6 312.0,165.5 314.3,160.1 316.6,153.3 318.9,147.4 321.2,141.1 322.3,138.6 323.5,146.4 325.7,158.6 328.0,167.9 330.3,170.4 332.6,169.9 334.9,175.7 337.1,204.1 339.4,215.0 341.7,217.2 344.0,221.1 346.3,223.2 348.6,210.9 350.8,206.0 353.1,207.7 355.4,207.4 357.7,215.0 360.0,207.7 362.2,219.9 364.5,225.9 366.8,201.1 369.1,176.7 371.4,164.5 373.7,185.5 375.9,200.2 378.2,208.5 380.5,216.7 382.8,221.6 385.1,213.4 387.4,210.1 389.6,207.7 391.9,193.3 394.2,163.7 395.5,149.2 396.5,161.7 396.7,163.7 398.8,194.8 401.0,213.8 403.3,196.8 405.6,159.6 406.9,141.8 407.9,157.6 408.1,159.6 410.2,202.8 412.5,219.9 414.7,204.5 417.0,193.3 419.3,199.6 421.6,209.3 423.9,215.0 426.1,219.1 428.4,221.6 430.7,227.5 433.0,231.4 435.3,235.1 437.6,233.0 439.8,220.7 442.1,208.5 444.4,205.2 446.7,202.8 449.0,215.8 451.2,229.7 453.5,235.3 455.8,237.1 458.1,233.8 460.4,204.5 462.7,197.1 464.9,212.6 467.2,228.9 469.5,227.5 471.8,227.2 474.1,224.0 476.3,221.1 478.6,217.7 480.9,210.1 483.2,225.6 485.5,233.4 487.8,228.5 490.0,214.2 492.3,197.9 494.6,188.9 496.9,184.8 499.2,193.8 501.4,207.7 503.7,216.7 506.0,223.5 508.3,229.2 510.6,211.8 512.9,201.1 515.1,206.9 517.4,211.1 519.7,215.1 522.0,220.4 524.3,220.4 526.5,221.3 528.8,225.4 531.1,213.4 533.4,206.6 535.7,195.6 538.0,177.4 540.2,163.6 542.5,194.5 544.8,216.7 547.1,221.6 549.4,196.2 551.6,187.1 553.9,185.1 556.2,175.1 558.5,198.7 560.8,220.7 563.1,234.1 565.3,242.2 567.6,235.1 569.9,230.1 572.2,225.6 574.5,218.7 576.7,208.5 578.1,197.7 579.0,190.6 579.9,198.7 581.3,210.9 583.6,232.9 585.9,197.9 588.2,191.8 590.4,191.1 592.7,196.0 595.0,201.1 597.3,210.1 599.6,222.1 601.8,229.0 604.1,206.0 606.4,171.7 608.7,162.7 611.0,209.3 613.3,238.2 615.5,232.4 617.8,224.3 620.1,213.8 622.4,210.9 624.7,200.3 626.9,180.7 629.2,169.4 631.5,164.9 633.8,169.9 636.1,169.9 638.4,171.9 640.6,168.9 642.9,166.4 645.2,163.9 647.5,153.2 649.8,158.7 652.0,172.7 654.3,171.7 656.6,153.7 658.9,145.7 661.2,159.7 663.5,170.7 665.7,159.7 668.0,171.7 670.3,189.7 670.3,245.3 668.0,245.3 665.7,245.3 663.5,245.3 661.2,245.3 658.9,245.3 656.6,245.3 654.3,245.3 652.0,245.3 649.8,245.3 647.5,245.3 645.2,245.3 642.9,245.3 640.6,245.3 638.4,245.3 636.1,245.3 633.8,245.3 631.5,245.3 629.2,245.3 626.9,245.3 624.7,245.3 622.4,245.3 620.1,245.3 617.8,245.3 615.5,245.3 613.3,245.3 611.0,245.3 608.7,245.3 606.4,245.3 604.1,245.3 601.8,245.3 599.6,245.3 597.3,245.3 595.0,245.3 592.7,245.3 590.4,245.3 588.2,245.3 585.9,245.3 583.6,245.3 581.3,245.3 579.9,245.3 579.0,245.3 578.1,245.3 576.7,245.3 574.5,245.3 572.2,245.3 569.9,245.3 567.6,245.3 565.3,245.3 563.1,245.3 560.8,245.3 558.5,245.3 556.2,245.3 553.9,245.3 551.6,245.3 549.4,245.3 547.1,245.3 544.8,245.3 542.5,245.3 540.2,245.3 538.0,245.3 535.7,245.3 533.4,245.3 531.1,245.3 528.8,245.3 526.5,245.3 524.3,245.3 522.0,245.3 519.7,245.3 517.4,245.3 515.1,245.3 512.9,245.3 510.6,245.3 508.3,245.3 506.0,245.3 503.7,245.3 501.4,245.3 499.2,245.3 496.9,245.3 494.6,245.3 492.3,245.3 490.0,245.3 487.8,245.3 485.5,245.3 483.2,245.3 480.9,245.3 478.6,245.3 476.3,245.3 474.1,245.3 471.8,245.3 469.5,245.3 467.2,245.3 464.9,245.3 462.7,245.3 460.4,245.3 458.1,245.3 455.8,245.3 453.5,245.3 451.2,245.3 449.0,245.3 446.7,245.3 444.4,245.3 442.1,245.3 439.8,245.3 437.6,245.3 435.3,245.3 433.0,245.3 430.7,245.3 428.4,245.3 426.1,245.3 423.9,245.3 421.6,245.3 419.3,245.3 417.0,245.3 414.7,245.3 412.5,245.3 410.2,245.3 408.1,245.3 407.9,245.3 406.9,245.3 405.6,245.3 403.3,245.3 401.0,245.3 398.8,245.3 396.7,245.3 396.5,245.3 395.5,245.3 394.2,245.3 391.9,245.3 389.6,245.3 387.4,245.3 385.1,245.3 382.8,245.3 380.5,245.3 378.2,245.3 375.9,245.3 373.7,245.3 371.4,245.3 369.1,245.3 366.8,245.3 364.5,245.3 362.2,245.3 360.0,245.3 357.7,245.3 355.4,245.3 353.1,245.3 350.8,245.3 348.6,245.3 346.3,245.3 344.0,245.3 341.7,245.3 339.4,245.3 337.1,245.3 334.9,245.3 332.6,245.3 330.3,245.3 328.0,245.3 325.7,245.3 323.5,245.3 322.3,245.3 321.2,245.3 318.9,245.3 316.6,245.3 314.3,245.3 312.0,245.3 309.8,245.3 307.5,245.3 305.2,245.3 302.9,245.3 300.6,245.3 298.4,245.3 296.1,245.3 293.8,245.3 291.5,245.3 289.2,245.3 286.9,245.3 284.7,245.3 282.4,245.3 280.1,245.3 278.8,245.3 277.8,245.3 276.8,245.3 275.5,245.3 273.3,245.3 271.0,245.3 268.7,245.3 266.4,245.3 264.1,245.3 261.8,245.3 259.6,245.3 257.3,245.3 255.0,245.3 252.7,245.3 250.4,245.3 248.2,245.3 245.9,245.3 243.6,245.3 241.3,245.3 239.0,245.3 236.7,245.3 234.5,245.3 232.2,245.3 229.9,245.3 227.6,245.3 225.3,245.3 223.1,245.3 220.8,245.3 218.5,245.3 216.2,245.3 213.9,245.3 211.6,245.3 209.4,245.3 207.1,245.3 204.8,245.3 202.5,245.3 200.2,245.3 198.0,245.3 195.7,245.3 193.4,245.3 191.1,245.3 188.8,245.3 186.5,245.3 184.3,245.3 182.0,245.3 179.7,245.3 177.4,245.3 175.1,245.3 172.9,245.3 170.6,245.3 169.4,245.3 168.3,245.3 167.1,245.3 166.0,245.3 163.7,245.3 161.4,245.3 159.2,245.3 156.9,245.3 154.6,245.3 152.3,245.3 150.0,245.3 147.8,245.3 145.5,245.3 143.2,245.3 140.9,245.3 138.6,245.3 136.3,245.3 134.1,245.3 131.8,245.3 129.5,245.3 127.2,245.3 124.9,245.3 122.7,245.3 120.4,245.3 118.1,245.3 115.8,245.3 113.5,245.3 111.2,245.3 109.0,245.3 106.7,245.3"/>
<polygon fill="#c72a37" stroke="#c72a37" stroke-width="1" stroke-linejoin="round" points="106.7,222.8 109.0,231.5 111.2,229.6 113.5,225.2 115.8,219.4 118.1,217.4 120.4,231.5 122.7,233.9 124.9,222.8 127.2,214.5 129.5,220.8 131.8,230.5 134.1,235.4 136.3,229.6 138.6,222.8 140.9,225.7 143.2,227.6 145.5,224.7 147.8,212.5 150.0,209.5 152.3,210.0 154.6,214.0 156.9,227.6 159.2,233.9 161.4,234.4 163.7,226.7 166.0,224.7 167.1,225.2 168.3,224.2 169.4,227.8 170.6,230.1 172.9,238.7 175.1,237.9 177.4,238.7 179.7,238.8 182.0,238.3 184.3,235.1 186.5,230.6 188.8,233.4 191.1,225.7 193.4,220.8 195.7,218.5 198.0,227.4 200.2,235.4 202.5,229.6 204.8,225.4 207.1,226.1 209.4,226.6 211.6,224.7 213.9,206.3 216.2,198.5 218.5,175.0 220.8,211.1 223.1,207.9 225.3,198.2 227.6,201.4 229.9,213.6 232.2,217.3 234.5,219.6 236.7,223.4 239.0,213.6 241.3,204.7 243.6,201.4 245.9,212.8 248.2,229.5 250.4,227.6 252.7,230.5 255.0,233.5 257.3,225.7 259.6,209.6 261.8,213.6 264.1,224.1 266.4,227.0 268.7,229.3 271.0,230.9 273.3,232.3 275.5,212.8 276.8,197.2 277.8,184.4 278.8,192.8 280.1,203.1 282.4,212.0 284.7,217.9 286.9,222.8 289.2,227.3 291.5,230.5 293.8,232.5 296.1,227.0 298.4,224.4 300.6,222.8 302.9,219.3 305.2,214.4 307.5,204.3 309.8,180.1 312.0,166.0 314.3,160.6 316.6,153.8 318.9,148.0 321.2,141.7 322.3,139.3 323.5,147.0 325.7,159.2 328.0,168.4 330.3,170.8 332.6,170.3 334.9,176.2 337.1,204.3 339.4,215.2 341.7,217.3 344.0,221.2 346.3,223.4 348.6,211.1 350.8,206.3 353.1,207.9 355.4,207.6 357.7,215.2 360.0,207.9 362.2,220.1 364.5,226.1 366.8,201.4 369.1,177.1 371.4,165.0 373.7,185.9 375.9,200.4 378.2,208.7 380.5,216.9 382.8,221.8 385.1,213.6 387.4,210.3 389.6,207.9 391.9,193.6 394.2,164.0 395.5,150.0 396.5,162.0 396.7,164.0 398.8,195.0 401.0,214.0 403.3,197.0 405.6,160.0 406.9,143.0 407.9,158.0 408.1,160.0 410.2,203.0 412.5,220.1 414.7,204.7 417.0,193.6 419.3,199.9 421.6,209.6 423.9,215.2 426.1,219.3 428.4,221.8 430.7,227.6 433.0,231.5 435.3,235.2 437.6,233.1 439.8,220.8 442.1,208.7 444.4,205.5 446.7,203.1 449.0,216.0 451.2,229.8 453.5,235.4 455.8,237.1 458.1,233.8 460.4,204.7 462.7,197.4 464.9,212.8 467.2,229.0 469.5,227.6 471.8,227.3 474.1,224.1 476.3,221.2 478.6,217.9 480.9,210.3 483.2,225.7 485.5,233.5 487.8,228.6 490.0,214.4 492.3,198.2 494.6,189.3 496.9,185.2 499.2,194.1 501.4,207.9 503.7,216.9 506.0,223.6 508.3,229.3 510.6,212.0 512.9,201.7 515.1,207.5 517.4,211.7 519.7,215.9 522.0,221.7 524.3,221.7 526.5,222.6 528.8,226.7 531.1,214.2 533.4,207.0 535.7,196.0 538.0,178.0 540.2,165.0 542.5,195.0 544.8,216.9 547.1,221.8 549.4,196.6 551.6,187.5 553.9,185.5 556.2,175.5 558.5,199.0 560.8,220.8 563.1,234.2 565.3,242.2 567.6,235.2 569.9,230.3 572.2,225.7 574.5,218.9 576.7,208.7 578.1,198.0 579.0,190.9 579.9,199.0 581.3,211.1 583.6,233.0 585.9,198.2 588.2,192.1 590.4,191.4 592.7,196.3 595.0,201.4 597.3,210.3 599.6,222.3 601.8,229.1 604.1,206.3 606.4,172.0 608.7,163.0 611.0,209.6 613.3,238.3 615.5,232.5 617.8,224.4 620.1,214.0 622.4,211.1 624.7,200.6 626.9,181.0 629.2,170.0 631.5,165.5 633.8,170.5 636.1,170.5 638.4,172.5 640.6,169.5 642.9,167.0 645.2,164.5 647.5,153.5 649.8,159.0 652.0,173.0 654.3,172.0 656.6,154.0 658.9,146.0 661.2,160.0 663.5,171.0 665.7,160.0 668.0,172.0 670.3,190.0 670.3,245.3 668.0,245.3 665.7,245.3 663.5,245.3 661.2,245.3 658.9,245.3 656.6,245.3 654.3,245.3 652.0,245.3 649.8,245.3 647.5,245.3 645.2,245.3 642.9,245.3 640.6,245.3 638.4,245.3 636.1,245.3 633.8,245.3 631.5,245.3 629.2,245.3 626.9,245.3 624.7,245.3 622.4,245.3 620.1,245.3 617.8,245.3 615.5,245.3 613.3,245.3 611.0,245.3 608.7,245.3 606.4,245.3 604.1,245.3 601.8,245.3 599.6,245.3 597.3,245.3 595.0,245.3 592.7,245.3 590.4,245.3 588.2,245.3 585.9,245.3 583.6,245.3 581.3,245.3 579.9,245.3 579.0,245.3 578.1,245.3 576.7,245.3 574.5,245.3 572.2,245.3 569.9,245.3 567.6,245.3 565.3,245.3 563.1,245.3 560.8,245.3 558.5,245.3 556.2,245.3 553.9,245.3 551.6,245.3 549.4,245.3 547.1,245.3 544.8,245.3 542.5,245.3 540.2,245.3 538.0,245.3 535.7,245.3 533.4,245.3 531.1,245.3 528.8,245.3 526.5,245.3 524.3,245.3 522.0,245.3 519.7,245.3 517.4,245.3 515.1,245.3 512.9,245.3 510.6,245.3 508.3,245.3 506.0,245.3 503.7,245.3 501.4,245.3 499.2,245.3 496.9,245.3 494.6,245.3 492.3,245.3 490.0,245.3 487.8,245.3 485.5,245.3 483.2,245.3 480.9,245.3 478.6,245.3 476.3,245.3 474.1,245.3 471.8,245.3 469.5,245.3 467.2,245.3 464.9,245.3 462.7,245.3 460.4,245.3 458.1,245.3 455.8,245.3 453.5,245.3 451.2,245.3 449.0,245.3 446.7,245.3 444.4,245.3 442.1,245.3 439.8,245.3 437.6,245.3 435.3,245.3 433.0,245.3 430.7,245.3 428.4,245.3 426.1,245.3 423.9,245.3 421.6,245.3 419.3,245.3 417.0,245.3 414.7,245.3 412.5,245.3 410.2,245.3 408.1,245.3 407.9,245.3 406.9,245.3 405.6,245.3 403.3,245.3 401.0,245.3 398.8,245.3 396.7,245.3 396.5,245.3 395.5,245.3 394.2,245.3 391.9,245.3 389.6,245.3 387.4,245.3 385.1,245.3 382.8,245.3 380.5,245.3 378.2,245.3 375.9,245.3 373.7,245.3 371.4,245.3 369.1,245.3 366.8,245.3 364.5,245.3 362.2,245.3 360.0,245.3 357.7,245.3 355.4,245.3 353.1,245.3 350.8,245.3 348.6,245.3 346.3,245.3 344.0,245.3 341.7,245.3 339.4,245.3 337.1,245.3 334.9,245.3 332.6,245.3 330.3,245.3 328.0,245.3 325.7,245.3 323.5,245.3 322.3,245.3 321.2,245.3 318.9,245.3 316.6,245.3 314.3,245.3 312.0,245.3 309.8,245.3 307.5,245.3 305.2,245.3 302.9,245.3 300.6,245.3 298.4,245.3 296.1,245.3 293.8,245.3 291.5,245.3 289.2,245.3 286.9,245.3 284.7,245.3 282.4,245.3 280.1,245.3 278.8,245.3 277.8,245.3 276.8,245.3 275.5,245.3 273.3,245.3 271.0,245.3 268.7,245.3 266.4,245.3 264.1,245.3 261.8,245.3 259.6,245.3 257.3,245.3 255.0,245.3 252.7,245.3 250.4,245.3 248.2,245.3 245.9,245.3 243.6,245.3 241.3,245.3 239.0,245.3 236.7,245.3 234.5,245.3 232.2,245.3 229.9,245.3 227.6,245.3 225.3,245.3 223.1,245.3 220.8,245.3 218.5,245.3 216.2,245.3 213.9,245.3 211.6,245.3 209.4,245.3 207.1,245.3 204.8,245.3 202.5,245.3 200.2,245.3 198.0,245.3 195.7,245.3 193.4,245.3 191.1,245.3 188.8,245.3 186.5,245.3 184.3,245.3 182.0,245.3 179.7,245.3 177.4,245.3 175.1,245.3 172.9,245.3 170.6,245.3 169.4,245.3 168.3,245.3 167.1,245.3 166.0,245.3 163.7,245.3 161.4,245.3 159.2,245.3 156.9,245.3 154.6,245.3 152.3,245.3 150.0,245.3 147.8,245.3 145.5,245.3 143.2,245.3 140.9,245.3 138.6,245.3 136.3,245.3 134.1,245.3 131.8,245.3 129.5,245.3 127.2,245.3 124.9,245.3 122.7,245.3 120.4,245.3 118.1,245.3 115.8,245.3 113.5,245.3 111.2,245.3 109.0,245.3 106.7,245.3"/>
<polyline fill="none" stroke="#000" stroke-width="2.3" stroke-linejoin="round" stroke-linecap="butt" points="106.7,205.0 109.0,224.2 111.2,220.9 113.5,215.9 115.8,205.0 118.1,196.7 120.4,225.9 122.7,225.9 124.9,205.0 127.2,187.5 129.5,201.7 131.8,218.4 134.1,226.4 136.3,216.7 138.6,201.7 140.9,207.5 143.2,211.7 145.5,207.5 147.8,185.0 150.0,175.6 152.3,178.9 154.6,176.8 156.9,205.0 159.2,223.7 161.4,222.6 163.7,186.7 166.0,161.0 167.1,149.0 168.3,130.5 169.4,150.0 170.6,167.0 172.9,229.5 175.1,224.2 177.4,225.4 179.7,229.4 182.0,229.1 184.3,223.1 186.5,220.0 188.8,224.0 191.1,209.2 193.4,196.2 195.7,194.2 198.0,202.5 200.2,226.0 202.5,214.2 204.8,210.9 207.1,209.7 209.4,210.0 211.6,208.4 213.9,186.0 216.2,128.0 218.5,115.5 220.8,184.0 223.1,179.0 225.3,168.0 227.6,159.7 229.9,179.0 232.2,193.4 234.5,196.7 236.7,204.2 239.0,180.0 241.3,169.0 243.6,164.4 245.9,170.6 248.2,213.0 250.4,214.2 252.7,217.6 255.0,220.0 257.3,206.7 259.6,186.7 261.8,176.4 264.1,202.5 266.4,212.0 268.7,214.2 271.0,215.9 273.3,217.0 275.5,182.0 276.8,163.0 277.8,126.4 278.8,163.0 280.1,174.0 282.4,184.0 284.7,195.9 286.9,200.9 289.2,213.4 291.5,219.6 293.8,218.7 296.1,209.7 298.4,206.2 300.6,204.7 302.9,201.7 305.2,185.0 307.5,164.7 309.8,131.0 312.0,102.8 314.3,104.4 316.6,85.2 318.9,69.4 321.2,55.7 322.3,54.8 323.5,53.8 325.7,77.7 328.0,95.2 330.3,110.5 332.6,120.5 334.9,122.7 337.1,149.7 339.4,180.0 341.7,188.3 344.0,193.4 346.3,198.7 348.6,181.0 350.8,171.8 353.1,171.0 355.4,168.4 357.7,183.0 360.0,170.6 362.2,190.0 364.5,214.0 366.8,146.4 369.1,112.0 371.4,90.2 373.7,118.0 375.9,150.6 378.2,170.6 380.5,191.7 382.8,200.0 385.1,179.5 387.4,182.5 389.6,176.0 391.9,146.4 394.2,82.0 395.5,63.6 396.5,48.5 396.7,62.2 398.8,186.0 401.0,188.0 403.3,165.0 405.6,95.0 406.9,65.2 407.9,40.8 408.1,52.3 410.2,155.0 412.5,200.9 414.7,170.6 417.0,154.4 419.3,154.4 421.6,169.8 423.9,184.2 426.1,195.9 428.4,198.4 430.7,212.6 433.0,219.2 435.3,224.2 437.6,220.0 439.8,200.0 442.1,180.0 444.4,174.8 446.7,169.4 449.0,190.0 451.2,213.4 453.5,224.2 455.8,227.6 458.1,218.4 460.4,166.4 462.7,162.2 464.9,168.0 467.2,210.9 469.5,211.7 471.8,211.7 474.1,205.4 476.3,200.9 478.6,195.9 480.9,184.2 483.2,186.7 485.5,220.6 487.8,211.7 490.0,182.0 492.3,158.9 494.6,146.4 496.9,140.5 499.2,153.0 501.4,181.0 503.7,193.4 506.0,197.5 508.3,213.4 510.6,166.4 512.9,147.2 515.1,159.7 517.4,167.8 519.7,173.0 522.0,165.6 524.3,167.3 526.5,163.9 528.8,176.0 531.1,146.4 533.4,138.0 535.7,125.0 538.0,68.0 540.2,63.5 542.5,134.7 544.8,178.0 547.1,198.4 549.4,136.0 551.6,139.7 553.9,126.0 556.2,118.0 558.5,160.0 560.8,196.7 563.1,218.4 565.3,235.0 567.6,221.7 569.9,218.4 572.2,214.2 574.5,199.2 576.7,186.0 578.1,163.0 579.0,120.5 579.9,163.0 581.3,190.0 583.6,224.5 585.9,161.4 588.2,161.0 590.4,163.0 592.7,158.0 595.0,185.0 597.3,194.2 599.6,207.5 601.8,213.4 604.1,146.4 606.4,117.0 608.7,101.0 611.0,150.0 613.3,227.0 615.5,220.9 617.8,206.7 620.1,196.7 622.4,194.2 624.7,180.0 626.9,134.7 629.2,110.0 631.5,93.0 633.8,111.0 636.1,119.0 638.4,122.5 640.6,115.0 642.9,111.0 645.2,107.5 647.5,88.4 649.8,81.7 652.0,115.0 654.3,130.0 656.6,84.0 658.9,61.7 661.2,90.0 663.5,114.0 665.7,92.6 668.0,110.0 670.3,160.3"/>
<rect x="78.50" y="30.50" width="620.00" height="225.00" fill="none" stroke="#000" stroke-width="1.11"/>
<line x1="73.64" y1="245.50" x2="78.50" y2="245.50" stroke="#000" stroke-width="1.11"/>
<text x="68.34" y="249.70" text-anchor="end" font-size="13.89">0</text>
<line x1="73.64" y1="216.50" x2="78.50" y2="216.50" stroke="#000" stroke-width="1.11"/>
<text x="68.34" y="220.70" text-anchor="end" font-size="13.89">50</text>
<line x1="73.64" y1="187.50" x2="78.50" y2="187.50" stroke="#000" stroke-width="1.11"/>
<text x="68.34" y="191.70" text-anchor="end" font-size="13.89">100</text>
<line x1="73.64" y1="158.50" x2="78.50" y2="158.50" stroke="#000" stroke-width="1.11"/>
<text x="68.34" y="162.70" text-anchor="end" font-size="13.89">150</text>
<line x1="73.64" y1="129.50" x2="78.50" y2="129.50" stroke="#000" stroke-width="1.11"/>
<text x="68.34" y="133.70" text-anchor="end" font-size="13.89">200</text>
<line x1="73.64" y1="100.50" x2="78.50" y2="100.50" stroke="#000" stroke-width="1.11"/>
<text x="68.34" y="104.70" text-anchor="end" font-size="13.89">250</text>
<line x1="73.64" y1="70.50" x2="78.50" y2="70.50" stroke="#000" stroke-width="1.11"/>
<text x="68.34" y="74.70" text-anchor="end" font-size="13.89">300</text>
<line x1="73.64" y1="41.50" x2="78.50" y2="41.50" stroke="#000" stroke-width="1.11"/>
<text x="68.34" y="45.70" text-anchor="end" font-size="13.89">350</text>
<line x1="106.50" y1="255.50" x2="106.50" y2="260.36" stroke="#000" stroke-width="1.11"/>
<text transform="translate(103.88,275.30) rotate(-30)" text-anchor="end" font-size="13.89">01-Mar-2017</text>
<line x1="161.50" y1="255.50" x2="161.50" y2="260.36" stroke="#000" stroke-width="1.11"/>
<text transform="translate(158.64,275.30) rotate(-30)" text-anchor="end" font-size="13.89">04-Mar-2017</text>
<line x1="216.50" y1="255.50" x2="216.50" y2="260.36" stroke="#000" stroke-width="1.11"/>
<text transform="translate(213.41,275.30) rotate(-30)" text-anchor="end" font-size="13.89">07-Mar-2017</text>
<line x1="270.50" y1="255.50" x2="270.50" y2="260.36" stroke="#000" stroke-width="1.11"/>
<text transform="translate(268.18,275.30) rotate(-30)" text-anchor="end" font-size="13.89">10-Mar-2017</text>
<line x1="325.50" y1="255.50" x2="325.50" y2="260.36" stroke="#000" stroke-width="1.11"/>
<text transform="translate(322.94,275.30) rotate(-30)" text-anchor="end" font-size="13.89">13-Mar-2017</text>
<line x1="380.50" y1="255.50" x2="380.50" y2="260.36" stroke="#000" stroke-width="1.11"/>
<text transform="translate(377.70,275.30) rotate(-30)" text-anchor="end" font-size="13.89">16-Mar-2017</text>
<line x1="435.50" y1="255.50" x2="435.50" y2="260.36" stroke="#000" stroke-width="1.11"/>
<text transform="translate(432.47,275.30) rotate(-30)" text-anchor="end" font-size="13.89">19-Mar-2017</text>
<line x1="490.50" y1="255.50" x2="490.50" y2="260.36" stroke="#000" stroke-width="1.11"/>
<text transform="translate(487.23,275.30) rotate(-30)" text-anchor="end" font-size="13.89">22-Mar-2017</text>
<line x1="544.50" y1="255.50" x2="544.50" y2="260.36" stroke="#000" stroke-width="1.11"/>
<text transform="translate(542.00,275.30) rotate(-30)" text-anchor="end" font-size="13.89">25-Mar-2017</text>
<line x1="599.50" y1="255.50" x2="599.50" y2="260.36" stroke="#000" stroke-width="1.11"/>
<text transform="translate(596.77,275.30) rotate(-30)" text-anchor="end" font-size="13.89">28-Mar-2017</text>
<line x1="654.50" y1="255.50" x2="654.50" y2="260.36" stroke="#000" stroke-width="1.11"/>
<text transform="translate(651.53,275.30) rotate(-30)" text-anchor="end" font-size="13.89">31-Mar-2017</text>
<text x="387.50" y="22.20" text-anchor="middle" font-size="16.67">Source contribution to BC concentrations</text>
<text transform="translate(27.00,144.30) rotate(-90)" text-anchor="middle" font-size="19.65">BC concentration (ng m<tspan font-size="13.75" dy="-4.91">−3</tspan><tspan dx="1.3" dy="4.91">)</tspan></text>
<rect x="78.50" y="345.50" width="76.90" height="47.00" fill="#c72a37"/>
<rect x="155.00" y="345.50" width="78.40" height="47.00" fill="#3b7cb4"/>
<rect x="233.00" y="345.50" width="77.40" height="47.00" fill="#6f8274"/>
<rect x="310.00" y="345.50" width="78.40" height="47.00" fill="#c96656"/>
<rect x="388.00" y="345.50" width="77.40" height="47.00" fill="#e8d030"/>
<rect x="465.00" y="345.50" width="78.40" height="47.00" fill="#f583bd"/>
<rect x="543.00" y="345.50" width="77.40" height="47.00" fill="#9370db"/>
<rect x="620.00" y="345.50" width="78.50" height="47.00" fill="#000000"/>
<text x="116.95" y="371.80" text-anchor="middle" font-size="13.25" fill="#000">DOM</text>
<text x="194.45" y="371.80" text-anchor="middle" font-size="13.25" fill="#000">ENE</text>
<text x="271.95" y="371.80" text-anchor="middle" font-size="13.25" fill="#000">FLR</text>
<text x="349.45" y="371.80" text-anchor="middle" font-size="13.25" fill="#000">IND</text>
<text x="426.95" y="371.80" text-anchor="middle" font-size="13.25" fill="#000">SHP</text>
<text x="504.45" y="371.80" text-anchor="middle" font-size="13.25" fill="#000">WST</text>
<text x="581.95" y="371.80" text-anchor="middle" font-size="13.25" fill="#000">TRA</text>
<text x="659.45" y="371.80" text-anchor="middle" font-size="13.25" fill="#fff">BB</text>
<rect x="78.50" y="345.50" width="620.00" height="47.00" fill="none" stroke="#000" stroke-width="1.11"/>
<line x1="78.50" y1="392.50" x2="78.50" y2="397.36" stroke="#000" stroke-width="1.11"/>
<line x1="155.50" y1="392.50" x2="155.50" y2="397.36" stroke="#000" stroke-width="1.11"/>
<line x1="233.50" y1="392.50" x2="233.50" y2="397.36" stroke="#000" stroke-width="1.11"/>
<line x1="310.50" y1="392.50" x2="310.50" y2="397.36" stroke="#000" stroke-width="1.11"/>
<line x1="388.50" y1="392.50" x2="388.50" y2="397.36" stroke="#000" stroke-width="1.11"/>
<line x1="465.50" y1="392.50" x2="465.50" y2="397.36" stroke="#000" stroke-width="1.11"/>
<line x1="543.50" y1="392.50" x2="543.50" y2="397.36" stroke="#000" stroke-width="1.11"/>
<line x1="620.50" y1="392.50" x2="620.50" y2="397.36" stroke="#000" stroke-width="1.11"/>
<line x1="698.50" y1="392.50" x2="698.50" y2="397.36" stroke="#000" stroke-width="1.11"/>
</svg>
</body></html>
